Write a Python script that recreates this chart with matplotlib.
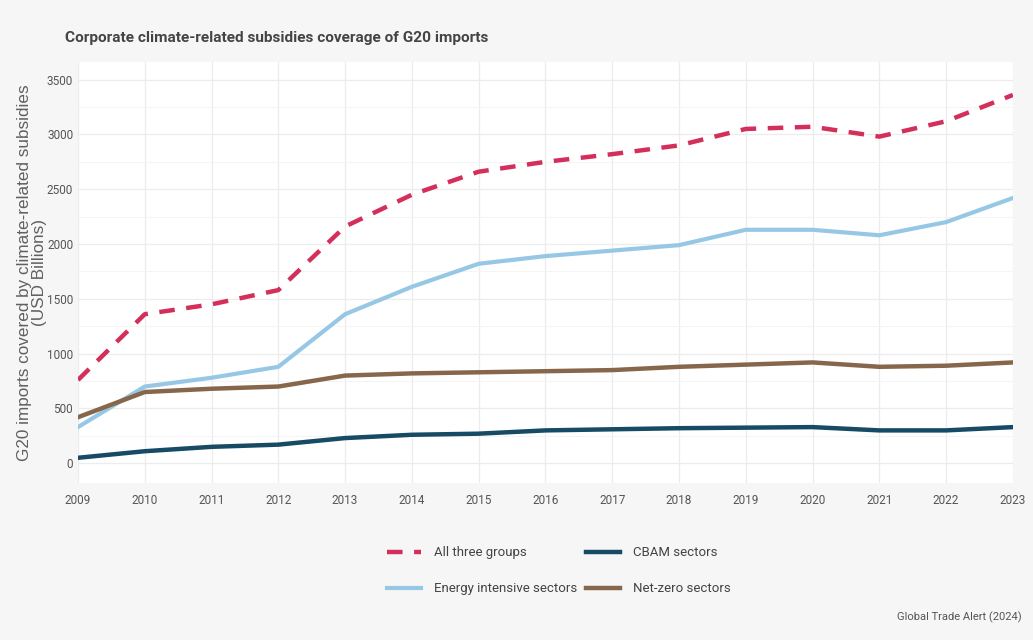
# Cobertura de importaciones G20 por subsidios climáticos corporativos (2009-2023).
# Salida: out.png
import numpy as np
import matplotlib; matplotlib.use("Agg")
import matplotlib.pyplot as plt
from matplotlib.ticker import MultipleLocator

years = list(range(2009, 2024))
all_three = [760, 1360, 1450, 1580, 2160, 2450, 2660, 2750, 2820, 2900, 3050, 3070, 2980, 3120, 3360]
energy_int = [330, 700, 780, 880, 1360, 1610, 1820, 1890, 1940, 1990, 2130, 2130, 2080, 2200, 2420]
cbam = [50, 110, 150, 170, 230, 260, 270, 300, 310, 320, 325, 330, 300, 300, 330]
net_zero = [420, 650, 680, 700, 800, 820, 830, 840, 850, 880, 900, 920, 880, 890, 920]

BG = "#f6f6f6"
NARROW = ["Roboto", "Liberation Sans", "DejaVu Sans"]
SANS = ["Liberation Sans", "DejaVu Sans"]

fig = plt.figure(figsize=(10.33, 6.4), dpi=100)
fig.patch.set_facecolor(BG)
ax = fig.add_axes([0.0755, 0.2453, 0.905, 0.6577])
ax.set_facecolor("white")

ax.plot(years, all_three, color="#d42e5b", lw=3.2, ls=(0, (3.5, 2.6)), label="All three groups", zorder=3)
ax.plot(years, energy_int, color="#96c8e6", lw=3.0, label="Energy intensive sectors", zorder=3)
ax.plot(years, cbam, color="#174a64", lw=3.2, label="CBAM sectors", zorder=3)
ax.plot(years, net_zero, color="#87674b", lw=3.2, label="Net-zero sectors", zorder=3)

ax.set_xlim(2009, 2023)
ax.set_ylim(-180, 3660)
ax.set_xticks(years)
ax.yaxis.set_major_locator(MultipleLocator(500))
ax.yaxis.set_minor_locator(MultipleLocator(250))
ax.grid(True, which="major", color="#ececec", lw=0.9, zorder=0)
ax.grid(True, which="minor", axis="y", color="#f3f3f3", lw=0.6, zorder=0)
for sp in ax.spines.values():
    sp.set_visible(False)
ax.tick_params(which="both", length=0, colors="#555555", labelsize=8.5)
ax.tick_params(axis="x", pad=8)
for lab in ax.get_xticklabels() + ax.get_yticklabels():
    lab.set_family(NARROW)

ax.set_ylabel("G20 imports covered by climate-related subsidies\n(USD Billions)",
              color="#606060", fontsize=12.3, family=SANS, labelpad=0, linespacing=0.95)

fig.text(0.063, 0.94, "Corporate climate-related subsidies coverage of G20 imports",
         color="#444444", fontsize=11.1, family=NARROW, fontweight="bold", va="center")

h, l = ax.get_legend_handles_labels()
leg = fig.legend(h, l, ncol=2, frameon=False,
                 loc="center", bbox_to_anchor=(0.541, 0.108), handlelength=2.6,
                 columnspacing=0.6, handletextpad=1.0, labelspacing=1.75,
                 prop={"family": NARROW, "size": 9.5})
for t in leg.get_texts():
    t.set_color("#444444")

fig.text(0.989, 0.035, "Global Trade Alert (2024)", color="#555555", fontsize=8,
         family=NARROW, ha="right", va="center")

fig.savefig("out.png", dpi=100, facecolor=BG)
